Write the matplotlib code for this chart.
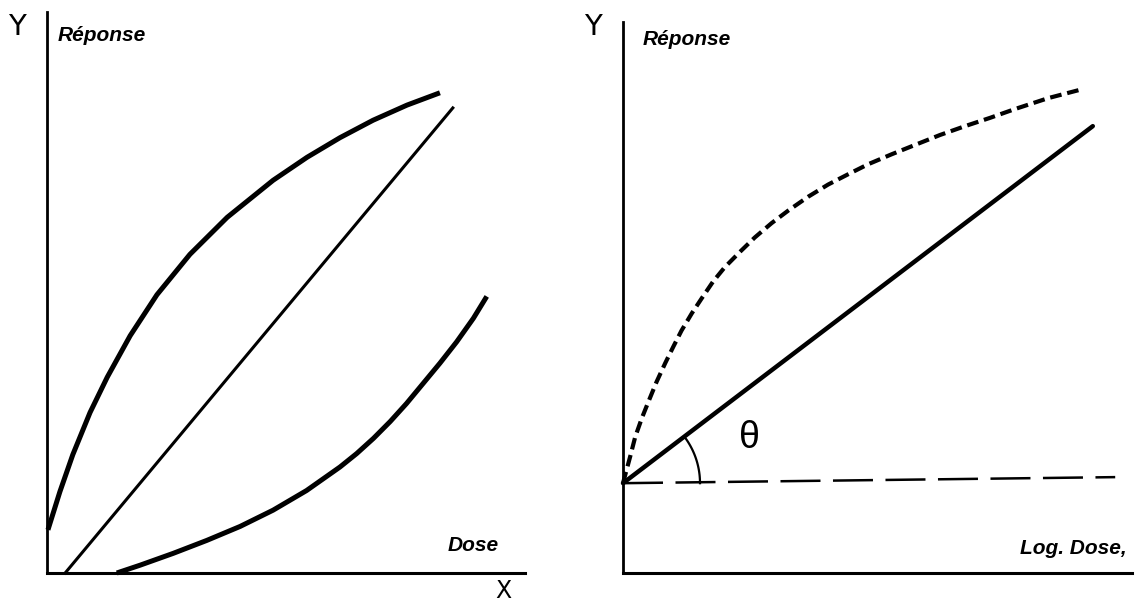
import numpy as np
import matplotlib
matplotlib.use("Agg")
import matplotlib.pyplot as plt

# left panel: dose / response (axes scaled 0-100)
upper_x = [0.2, 2.7, 5.4, 9.0, 12.6, 17.4, 23.0, 29.9, 37.7, 47.3, 54.4, 61.3, 68.2, 75.3, 82.2]
upper_y = [7.7, 14.5, 21.1, 28.6, 34.9, 42.3, 49.6, 56.8, 63.4, 70.0, 74.1, 77.6, 80.7, 83.4, 85.6]
straight_x = [3.8, 84.9]
straight_y = [0, 82.9]
lower_x = [14.6, 19.5, 26.4, 33.4, 40.4, 47.3, 54.3, 61.3, 64.8, 68.3, 71.8, 75.2, 78.7, 82.2, 85.7, 89.2, 92.0]
lower_y = [0, 1.4, 3.5, 5.8, 8.3, 11.2, 14.7, 18.9, 21.3, 24.0, 27.0, 30.2, 33.8, 37.4, 41.2, 45.4, 49.3]

# right panel: log dose / response
log_line_x = [0, 92.3]
log_line_y = [16.3, 81.1]
base_x = [0, 96.7]
base_y = [16.3, 17.4]
curve_x = [0, 1.4, 2.4, 3.7, 5.0, 6.6, 8.3, 9.9, 11.5, 13.5, 15.5, 17.7, 20.0, 23.0, 25.9,
           29.2, 32.5, 36.4, 40.3, 44.3, 48.2, 52.8, 57.4, 62.3, 67.2, 72.1, 77.0, 83.6, 89.8]
curve_y = [16.3, 21.1, 24.7, 28.1, 31.1, 34.7, 38.1, 41.1, 44.0, 47.1, 49.9, 52.9, 55.5, 58.3, 60.9,
           63.5, 65.8, 68.3, 70.5, 72.4, 74.2, 76.0, 77.7, 79.5, 81.1, 82.6, 84.2, 86.2, 87.7]

W, H = 1136, 604
fig = plt.figure(figsize=(W / 100, H / 100), dpi=100)

label_font = dict(family=["Liberation Sans", "DejaVu Sans"], style="italic", weight="bold")


def make_axes(left, right, top, bottom):
    ax = fig.add_axes([left / W, (H - bottom) / H, (right - left) / W, (bottom - top) / H])
    ax.set_xlim(0, 100)
    ax.set_ylim(0, 100)
    ax.spines["top"].set_visible(False)
    ax.spines["right"].set_visible(False)
    ax.spines["left"].set_linewidth(2.0)
    ax.spines["bottom"].set_linewidth(2.2)
    ax.set_xticks([])
    ax.set_yticks([])
    ax.patch.set_alpha(0)
    return ax


# left panel
ax1 = make_axes(47, 525, 12, 573)
ax1.plot(upper_x, upper_y, color="black", lw=3.6, solid_capstyle="butt",
         solid_joinstyle="round", clip_on=False)
ax1.plot(straight_x, straight_y, color="black", lw=2.2, clip_on=False)
ax1.plot(lower_x, lower_y, color="black", lw=3.6, solid_capstyle="butt",
         solid_joinstyle="round", clip_on=False)
ax1.text(94.5, 4, "Dose", fontsize=15, ha="right", va="baseline", **label_font)
ax1.text(2.2, 97.5, "Réponse", fontsize=15, ha="left", va="top", **label_font)
fig.text(17 / W, 1 - 27 / H, "Y", fontsize=21, ha="center", va="center")
fig.text(503 / W, 1 - 591 / H, "X", fontsize=17, ha="center", va="center")

# right panel
ax2 = make_axes(623, 1132, 22, 573)
ax2.plot(curve_x, curve_y, color="black", lw=3.0, linestyle=(0, (2.8, 1.4)),
         dash_capstyle="butt", clip_on=False)
ax2.plot(log_line_x, log_line_y, color="black", lw=3.2, solid_capstyle="round", clip_on=False)
ax2.plot(base_x, base_y, color="black", lw=1.8, linestyle=(0, (16, 5)), clip_on=False)

# angle arc between baseline and the straight line (radius in pixels)
sx, sy = (1132 - 623) / 100, (573 - 22) / 100
ang = np.arctan2((log_line_y[1] - log_line_y[0]) * sy, (log_line_x[1] - log_line_x[0]) * sx)
t = np.linspace(0, ang, 40)
r = 77
ax2.plot(log_line_x[0] + r * np.cos(t) / sx, log_line_y[0] + r * np.sin(t) / sy,
         color="black", lw=1.6, clip_on=False)
ax2.text((749 - 623) / sx, (573 - 438) / sy, "θ", fontsize=27,
         family=["Liberation Sans", "DejaVu Sans"], ha="center", va="center")
ax2.text(99, 3.5, "Log. Dose,", fontsize=15, ha="right", va="baseline", **label_font)
ax2.text(3.8, 98.5, "Réponse", fontsize=15, ha="left", va="top", **label_font)
fig.text(593 / W, 1 - 27 / H, "Y", fontsize=21, ha="center", va="center")

fig.savefig("out.png", dpi=100)
